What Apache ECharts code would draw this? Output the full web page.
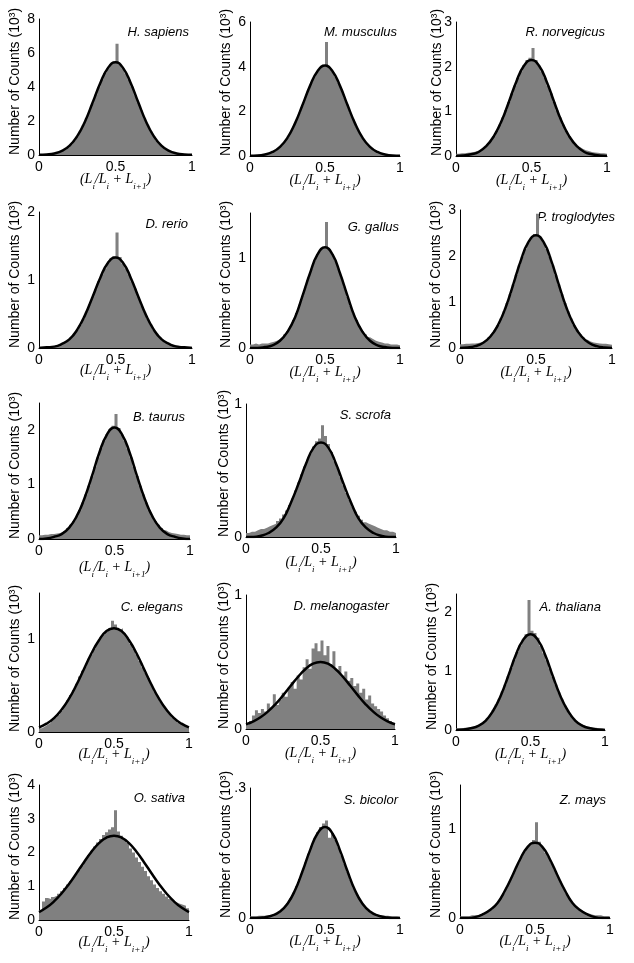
<!DOCTYPE html>
<html><head><meta charset="utf-8">
<script src="https://cdn.jsdelivr.net/npm/echarts@6/dist/echarts.min.js"></script>
<style>html,body{margin:0;padding:0;background:#fff}#c{width:634px;height:963px}</style>
</head><body><div id="c"></div>
<script>
// ---------- DATA ----------
const speciesNames = ['H. sapiens','M. musculus','R. norvegicus','D. rerio','G. gallus','P. troglodytes','B. taurus','S. scrofa','C. elegans','D. melanogaster','A. thaliana','O. sativa','S. bicolor','Z. mays'];
// histogram: 50 bins of width 0.02 on [0,1]; values are bin counts (10^3)
const binWidth = 0.02;
const curveX = [0,0.05,0.1,0.15,0.2,0.25,0.3,0.35,0.4,0.45,0.5,0.55,0.6,0.65,0.7,0.75,0.8,0.85,0.9,0.95,1];
const xTickLabels = ['0','0.5','1'];

const histHsapiens = [0.06,0.05,0.06,0.07,0.09,0.12,0.17,0.24,0.33,0.46,0.63,0.85,1.11,1.42,1.76,2.17,2.60,3.05,3.55,3.98,4.43,4.82,5.10,5.35,5.45, 6.55,5.32,5.10,4.80,4.42,4.02,3.52,3.06,2.62,2.16,1.78,1.40,1.12,0.84,0.64,0.47,0.34,0.25,0.17,0.12,0.08,0.06,0.05,0.05,0.04];
const histMmusculus = [0.03,0.03,0.04,0.05,0.07,0.09,0.13,0.18,0.25,0.35,0.47,0.63,0.82,1.05,1.32,1.61,1.94,2.27,2.64,2.97,3.30,3.57,3.80,3.95,4.05, 5.10,3.98,3.80,3.56,3.28,2.98,2.63,2.29,1.93,1.62,1.31,1.05,0.82,0.63,0.48,0.35,0.25,0.18,0.12,0.09,0.06,0.05,0.04,0.03,0.03];
const histRnorvegicus = [0.05,0.06,0.06,0.07,0.08,0.09,0.11,0.13,0.16,0.20,0.26,0.34,0.44,0.56,0.70,0.86,1.03,1.21,1.40,1.58,1.75,1.90,2.03,2.15,2.20, 2.42,2.15,2.02,1.89,1.75,1.57,1.40,1.21,1.02,0.86,0.70,0.56,0.44,0.34,0.26,0.20,0.16,0.13,0.11,0.09,0.08,0.07,0.06,0.06,0.05];
const histDrerio = [0.02,0.02,0.02,0.03,0.03,0.04,0.05,0.07,0.09,0.12,0.16,0.21,0.27,0.34,0.43,0.53,0.64,0.75,0.86,0.98,1.08,1.17,1.25,1.32,1.35, 1.70,1.34,1.24,1.17,1.08,0.97,0.87,0.75,0.63,0.53,0.43,0.35,0.27,0.21,0.16,0.11,0.08,0.06,0.05,0.04,0.03,0.03,0.02,0.02,0.02];
const histGgallus = [0.04,0.05,0.04,0.05,0.05,0.05,0.06,0.07,0.08,0.10,0.12,0.15,0.19,0.24,0.31,0.39,0.48,0.58,0.68,0.78,0.88,0.97,1.04,1.09,1.12, 1.40,1.10,1.04,0.97,0.88,0.78,0.68,0.57,0.47,0.38,0.31,0.24,0.19,0.15,0.12,0.10,0.08,0.07,0.06,0.05,0.05,0.04,0.04,0.04,0.03];
const histPtroglodytes = [0.08,0.09,0.09,0.10,0.10,0.11,0.12,0.14,0.18,0.23,0.30,0.39,0.50,0.64,0.80,0.98,1.17,1.38,1.59,1.80,1.99,2.16,2.30,2.40,2.48, 2.92,2.42,2.30,2.15,1.99,1.80,1.58,1.38,1.17,0.98,0.80,0.64,0.50,0.39,0.30,0.23,0.18,0.14,0.12,0.11,0.10,0.09,0.09,0.08,0.07];
const histBtaurus = [0.07,0.08,0.08,0.09,0.09,0.10,0.11,0.13,0.16,0.20,0.26,0.33,0.42,0.53,0.67,0.82,0.98,1.15,1.33,1.50,1.67,1.81,1.93,2.02,2.08, 2.30,2.04,1.92,1.80,1.66,1.50,1.33,1.16,0.98,0.82,0.67,0.53,0.42,0.33,0.26,0.20,0.16,0.13,0.11,0.10,0.09,0.08,0.08,0.07,0.07];
const histSscrofa = [0.03,0.04,0.04,0.05,0.06,0.06,0.07,0.08,0.09,0.10,0.12,0.14,0.17,0.20,0.24,0.29,0.35,0.41,0.47,0.53,0.58,0.63,0.68,0.72,0.74, 0.84,0.76,0.70,0.64,0.57,0.52,0.45,0.39,0.33,0.28,0.23,0.19,0.16,0.13,0.11,0.10,0.09,0.08,0.07,0.06,0.05,0.05,0.04,0.04,0.03];
const histCelegans = [0.04,0.06,0.08,0.10,0.13,0.16,0.19,0.23,0.28,0.34,0.40,0.45,0.52,0.60,0.66,0.71,0.79,0.84,0.90,0.96,1.02,1.05,1.08,1.12,1.20, 1.16,1.10,1.12,1.06,1.02,0.95,0.90,0.84,0.77,0.70,0.64,0.58,0.51,0.44,0.39,0.33,0.28,0.24,0.20,0.16,0.13,0.10,0.08,0.06,0.04];
const histDmelanogaster = [0.03,0.06,0.10,0.14,0.12,0.15,0.13,0.19,0.16,0.26,0.18,0.22,0.27,0.24,0.31,0.35,0.30,0.40,0.37,0.46,0.52,0.45,0.60,0.64,0.58, 0.66,0.55,0.62,0.48,0.58,0.44,0.47,0.40,0.43,0.36,0.38,0.32,0.34,0.27,0.30,0.22,0.25,0.19,0.17,0.15,0.13,0.10,0.08,0.06,0.04];
const histAthaliana = [0.03,0.03,0.04,0.04,0.05,0.06,0.07,0.09,0.11,0.15,0.20,0.26,0.34,0.43,0.53,0.65,0.77,0.91,1.05,1.19,1.32,1.43,1.53,1.62,2.20, 1.68,1.64,1.56,1.42,1.30,1.18,1.04,0.90,0.77,0.64,0.53,0.42,0.33,0.25,0.19,0.14,0.10,0.08,0.06,0.05,0.04,0.04,0.03,0.03,0.02];
const histOsativa = [0.30,0.55,0.65,0.62,0.68,0.72,0.78,0.85,0.95,1.05,1.15,1.25,1.38,1.50,1.62,1.78,1.92,2.05,2.18,2.30,2.40,2.52,2.60,2.68,2.75, 3.25,2.62,2.50,2.40,2.28,2.12,2.00,1.85,1.72,1.58,1.45,1.30,1.18,1.05,0.95,0.85,0.78,0.70,0.62,0.58,0.52,0.48,0.45,0.42,0.35];
const histSbicolor = [0.004,0.004,0.005,0.005,0.005,0.006,0.007,0.008,0.010,0.013,0.018,0.025,0.034,0.045,0.058,0.073,0.090,0.108,0.128,0.148,0.166,0.183,0.198,0.210,0.218, 0.225,0.185,0.196,0.180,0.163,0.145,0.126,0.107,0.088,0.071,0.056,0.044,0.033,0.024,0.017,0.012,0.009,0.007,0.006,0.005,0.005,0.004,0.004,0.004,0.003];
const histZmays = [0.02,0.02,0.02,0.03,0.03,0.03,0.04,0.05,0.06,0.08,0.10,0.13,0.17,0.22,0.28,0.34,0.41,0.48,0.55,0.62,0.69,0.75,0.80,0.84,0.88, 1.08,0.86,0.80,0.74,0.69,0.62,0.55,0.48,0.41,0.34,0.28,0.22,0.17,0.13,0.10,0.08,0.06,0.05,0.04,0.03,0.03,0.03,0.02,0.02,0.02];

const fitHsapiens = [0.01,0.03,0.09,0.24,0.55,1.11,1.96,3.07,4.22,5.11,5.45,5.11,4.22,3.07,1.96,1.11,0.55,0.24,0.09,0.03,0.01];
const fitMmusculus = [0.01,0.02,0.07,0.18,0.41,0.82,1.46,2.28,3.14,3.80,4.05,3.80,3.14,2.28,1.46,0.82,0.41,0.18,0.07,0.02,0.01];
const fitRnorvegicus = [0.00,0.01,0.04,0.09,0.22,0.44,0.77,1.21,1.67,2.02,2.15,2.02,1.67,1.21,0.77,0.44,0.22,0.09,0.04,0.01,0.00];
const fitDrerio = [0.00,0.01,0.02,0.06,0.13,0.27,0.48,0.75,1.03,1.25,1.33,1.25,1.03,0.75,0.48,0.27,0.13,0.06,0.02,0.01,0.00];
const fitGgallus = [0.00,0.00,0.01,0.03,0.08,0.18,0.34,0.58,0.83,1.04,1.12,1.04,0.83,0.58,0.34,0.18,0.08,0.03,0.01,0.00,0.00];
const fitPtroglodytes = [0.00,0.01,0.04,0.11,0.25,0.50,0.88,1.38,1.90,2.30,2.45,2.30,1.90,1.38,0.88,0.50,0.25,0.11,0.04,0.01,0.00];
const fitBtaurus = [0.00,0.01,0.04,0.09,0.21,0.42,0.74,1.15,1.59,1.92,2.05,1.92,1.59,1.15,0.74,0.42,0.21,0.09,0.04,0.01,0.00];
const fitSscrofa = [0.00,0.00,0.01,0.03,0.07,0.14,0.26,0.40,0.55,0.67,0.71,0.67,0.55,0.40,0.26,0.14,0.07,0.03,0.01,0.00,0.00];
const fitCelegans = [0.05,0.09,0.15,0.24,0.36,0.51,0.68,0.85,0.99,1.09,1.12,1.09,0.99,0.85,0.68,0.51,0.36,0.24,0.15,0.09,0.05];
const fitDmelanogaster = [0.035,0.057,0.089,0.133,0.188,0.253,0.323,0.390,0.448,0.487,0.500,0.487,0.448,0.390,0.323,0.253,0.188,0.133,0.089,0.057,0.035];
const fitAthaliana = [0.00,0.01,0.03,0.07,0.16,0.33,0.58,0.91,1.26,1.52,1.62,1.52,1.26,0.91,0.58,0.33,0.16,0.07,0.03,0.01,0.00];
const fitOsativa = [0.235,0.368,0.55,0.785,1.068,1.385,1.713,2.02,2.275,2.443,2.5,2.443,2.275,2.02,1.713,1.385,1.068,0.785,0.55,0.368,0.235];
const fitSbicolor = [0.000,0.000,0.002,0.006,0.015,0.033,0.064,0.108,0.156,0.195,0.210,0.195,0.156,0.108,0.064,0.033,0.015,0.006,0.002,0.000,0.000];
const fitZmays = [0.00,0.00,0.01,0.04,0.09,0.17,0.31,0.48,0.66,0.80,0.85,0.80,0.66,0.48,0.31,0.17,0.09,0.04,0.01,0.00,0.00];

const yMaxes = [8,6,3,2,1.5,3,2.5,1,1.5,1,2.3,4,0.3,1.5];
const yTickValues = [[0,2,4,6,8],[0,2,4,6],[0,1,2,3],[0,1,2],[0,1],[0,1,2,3],[0,1,2],[0,1],[0,1],[0,1],[0,1,2],[0,1,2,3,4],[0,0.3],[0,1]];
const yTickLabels = [['0','2','4','6','8'],['0','2','4','6'],['0','1','2','3'],['0','1','2'],['0','1'],['0','1','2','3'],['0','1','2'],['0','1'],['0','1'],['0','1'],['0','1','2'],['0','1','2','3','4'],['0','.3'],['0','1']];

const hists = [histHsapiens,histMmusculus,histRnorvegicus,histDrerio,histGgallus,histPtroglodytes,histBtaurus,histSscrofa,histCelegans,histDmelanogaster,histAthaliana,histOsativa,histSbicolor,histZmays];
const fits = [fitHsapiens,fitMmusculus,fitRnorvegicus,fitDrerio,fitGgallus,fitPtroglodytes,fitBtaurus,fitSscrofa,fitCelegans,fitDmelanogaster,fitAthaliana,fitOsativa,fitSbicolor,fitZmays];

// ---------- LAYOUT (pixels) ----------
// [left, right, top, bottom, yNameX, xLabelOffset, speciesRight, speciesY]
const layout = [
  [39,192,19,155, 15,27, 189,32],
  [250,400,22,156, 226,27, 397,32],
  [456,607,22,156, 437,27, 605,32],
  [39,192,212,348, 15,25, 188,224],
  [250,400,213,348, 226,27, 399,227],
  [460,612,210,348, 436,27, 615,217],
  [39,190,403,539, 15,31, 185,417],
  [246,396,404,537, 224,28, 391,415],
  [39,189,593,732, 15,25, 183,607],
  [246,395,595,729, 224,27, 389,606],
  [456,605,594,730, 432,27, 601,607],
  [39,189,785,920, 15,25, 185,798],
  [250,400,788,918, 226,26, 398,800],
  [460,610,785,918, 436,26, 606,800]
];

// histogram outline points: each bin [leftEdge, count], closed at x = 1
function histSteps(h){
  const pts = h.map((v,k)=>[k*binWidth, v]);
  pts.push([h.length*binWidth, h[h.length-1]]);
  return pts;
}

const grid=[], xAxis=[], yAxis=[], series=[], graphic=[];
const sans = '"Liberation Sans", Arial, sans-serif';
const serif = '"Liberation Serif", "Times New Roman", serif';
hists.forEach((h,i)=>{
  const [l,r,t,b,nx,xo,sr,sy] = layout[i];
  grid.push({left:l, top:t, width:r-l, height:b-t});
  xAxis.push({type:'value', gridIndex:i, min:0, max:1, interval:0.5, position:'bottom',
    axisLine:{show:true, onZero:false, lineStyle:{color:'#000', width:1}},
    axisTick:{show:false}, splitLine:{show:false},
    axisLabel:{color:'#000', fontSize:14, fontFamily:sans, margin:5,
      formatter:v=>{const k=[0,0.5,1].findIndex(t=>Math.abs(t-v)<1e-9); return k<0?'':xTickLabels[k];}}});
  const tv = yTickValues[i], tl = yTickLabels[i];
  yAxis.push({type:'value', gridIndex:i, min:0, max:yMaxes[i], interval:tv[1]-tv[0],
    axisLine:{show:true, lineStyle:{color:'#000', width:1}},
    axisTick:{show:false}, splitLine:{show:false},
    axisLabel:{color:'#000', fontSize:14, fontFamily:sans, margin:4, showMaxLabel:true,
      formatter:v=>{const k=tv.findIndex(t=>Math.abs(t-v)<1e-6); return k<0?'':tl[k];}}});
  series.push({type:'line', xAxisIndex:i, yAxisIndex:i, data:histSteps(h), step:'end',
    symbol:'none', lineStyle:{width:0, color:'#808080'}, areaStyle:{color:'#808080', opacity:1},
    silent:true, z:2});
  series.push({type:'line', xAxisIndex:i, yAxisIndex:i, data:curveX.map((x,k)=>[x,fits[i][k]]),
    smooth:0.5, symbol:'none', lineStyle:{color:'#000', width:2.5}, silent:true, z:3});
  graphic.push({type:'text', x:nx, y:b, rotation:Math.PI/2,
    style:{text:'Number of Counts (10³)', font:'14px '+sans, fill:'#000', textAlign:'left', textVerticalAlign:'middle'}});
  graphic.push({type:'text', x:sr, y:sy,
    style:{text:speciesNames[i], font:'italic 13px '+sans, fill:'#000', textAlign:'right', textVerticalAlign:'middle'}});
  graphic.push({type:'text', x:(l+r)/2, y:b+xo,
    style:{text:'{n|(L}{s|i}{n|/L}{s|i}{n| + L}{s|i+1}{n|)}', fill:'#000', textAlign:'center', textVerticalAlign:'middle',
      rich:{n:{font:'italic 14px '+serif, lineHeight:16, verticalAlign:'top', fill:'#000'},
            s:{font:'italic 9px '+serif, lineHeight:19, verticalAlign:'bottom', fill:'#000'}}}});
});

const chart = echarts.init(document.getElementById('c'), null, {renderer:'canvas'});
chart.setOption({animation:false, backgroundColor:'#fff', grid, xAxis, yAxis, series, graphic});
</script></body></html>
